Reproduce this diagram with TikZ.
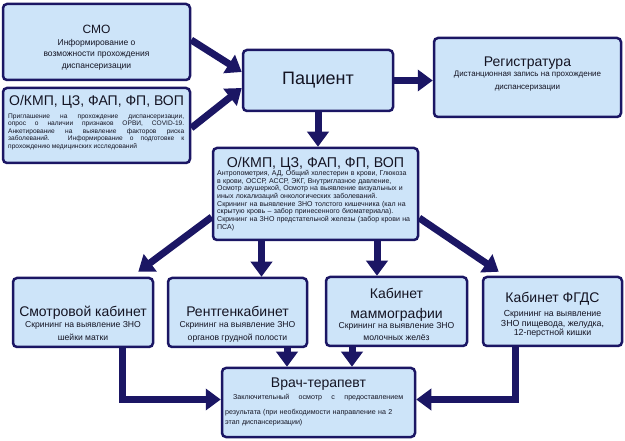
\documentclass[tikz,border=0pt]{standalone}
\usepackage{fontspec}
\setmainfont{Liberation Sans}
\usetikzlibrary{arrows.meta,calc}
\definecolor{navy}{RGB}{27,22,100}
\definecolor{boxfill}{RGB}{205,228,249}
\definecolor{txt}{RGB}{20,20,35}
\newcommand\fs[2]{\fontsize{#1}{#2}\selectfont}
\tikzset{
  box/.style={draw=navy, line width=2.5pt, fill=boxfill, rounded corners=4pt, inner sep=0pt},
  ttl/.style={inner sep=0pt, anchor=base, text=txt},
  sub/.style={inner sep=0pt, anchor=north, align=center, text=txt},
  par/.style={inner sep=0pt, anchor=north west, text=txt},
  conn/.style={draw=navy, line width=7pt, -{Triangle[width=21pt,length=15pt]}}
}
\begin{document}
\begin{tikzpicture}[x=1pt,y=-1pt]
\useasboundingbox (0,0) rectangle (625,441);
% boxes
\node[box, minimum width=187pt, minimum height=76pt] (smo) at (96.5,42) {};
\node[box, minimum width=187pt, minimum height=75pt] (okmp1) at (96.5,125.5) {};
\node[box, minimum width=150pt, minimum height=61pt] (pat) at (318,80.5) {};
\node[box, minimum width=187pt, minimum height=79pt] (reg) at (527.5,77.5) {};
\node[box, minimum width=205pt, minimum height=92pt] (mid) at (315.5,194) {};
\node[box, minimum width=140pt, minimum height=69pt] (smotr) at (83,312.5) {};
\node[box, minimum width=139pt, minimum height=69pt] (rent) at (237.5,312.5) {};
\node[box, minimum width=141pt, minimum height=69pt] (mammo) at (396.5,311.5) {};
\node[box, minimum width=139pt, minimum height=69pt] (fgds) at (552.5,311.5) {};
\node[box, minimum width=193pt, minimum height=69pt] (vrach) at (318.5,402.5) {};
% texts
\node[ttl, font=\fs{12}{14}] (smoT) at (96.5,33.5) {СМО};
\node[sub, font=\fs{8.5}{11.5}] (smoS) at (96.5,39) {Информирование о\\возможности прохождения\\диспансеризации};
\node[ttl, font=\fs{14}{16}] (okmp1T) at (96.5,106) {О/КМП, ЦЗ, ФАП, ФП, ВОП};
\node[par, text width=176pt, align=justify, font=\fs{6.6}{7.5}] (okmp1S) at (8,113.3) {Приглашение на прохождение диспансеризации,\linebreak опрос о наличии признаков ОРВИ, COVID-19.\linebreak Анкетирование на выявление факторов риска\linebreak заболеваний. Информирование о подготовке к\linebreak прохождению медицинских исследований};
\node[ttl, font=\fs{18}{20}] (patT) at (318,84.5) {Пациент};
\node[ttl, font=\fs{14}{16}] (regT) at (527.5,67) {Регистратура};
\node[sub, font=\fs{8}{12.7}] (regS) at (527.5,71.2) {Дистанционная запись на прохождение\\диспансеризации};
\node[ttl, font=\fs{14.2}{16}] (midT) at (315.5,167.5) {О/КМП, ЦЗ, ФАП, ФП, ВОП};
\node[par, text width=200pt, align=left, font=\fs{7}{7.7}] (midS) at (217,170) {Антропометрия, АД, Общий холестерин в крови, Глюкоза\\в крови, ОССР, АССР, ЭКГ, Внутриглазное давление,\\Осмотр акушеркой, Осмотр на выявление визуальных и\\иных локализаций онкологических заболеваний.\\Скрининг на выявление ЗНО толстого кишечника (кал на\\скрытую кровь – забор принесенного биоматериала).\\Скрининг на ЗНО предстательной железы (забор крови на\\ПСА)};
\node[ttl, font=\fs{14}{16}] (smotrT) at (83,317) {Смотровой кабинет};
\node[sub, font=\fs{8.6}{13}] (smotrS) at (83,320.8) {Скрининг на выявление ЗНО\\шейки матки};
\node[ttl, font=\fs{14}{16}] (rentT) at (237.5,317) {Рентгенкабинет};
\node[sub, font=\fs{8.6}{13}] (rentS) at (237.5,320.8) {Скрининг на выявление ЗНО\\органов грудной полости};
\node[ttl, font=\fs{14}{20}, align=center, anchor=north] (mammoT) at (396.5,288) {Кабинет\\маммографии};
\node[sub, font=\fs{8.6}{12}] (mammoS) at (396.5,321.8) {Скрининг на выявление ЗНО\\молочных желёз};
\node[ttl, font=\fs{14}{16}] (fgdsT) at (552.5,303) {Кабинет ФГДС};
\node[sub, font=\fs{8.8}{9.7}] (fgdsS) at (552.5,310) {Скрининг на выявление\\ЗНО пищевода, желудка,\\12-перстной кишки};
\node[ttl, font=\fs{14}{16}] (vrachT) at (318.5,388) {Врач-терапевт};
\node[par, text width=178pt, align=left, font=\fs{7.1}{10}] (vrachS) at (225,394) {\hbox to \linewidth{\hspace{8pt}Заключительный\hfill осмотр\hfill с\hfill предоставлением}\par\vspace{5pt}результата (при необходимости направление на 2\\этап диспансеризации)};
% connectors
\draw[conn] ([yshift=2pt]smo.east) -- ([yshift=8.5pt]pat.west);
\draw[conn] ([yshift=-2.5pt]okmp1.east) -- ([yshift=-7.5pt]pat.west);
\draw[conn] (pat.east) -- (pat.east -| reg.west);
\draw[conn] (pat.south) -- (pat.south |- mid.north);
\draw[conn] ([yshift=-23pt]mid.west) -- ([xshift=-16pt,yshift=5pt]smotr.north east);
\draw[conn] ([yshift=-24pt]mid.east) -- ([xshift=17pt,yshift=4pt]fgds.north west);
\draw[conn] ([xshift=24pt]rent.north |- mid.south) -- ([xshift=24pt]rent.north);
\draw[conn] ([xshift=-19.5pt]mammo.north |- mid.south) -- ([xshift=-19.5pt]mammo.north);
\draw[conn] ([xshift=49.5pt]rent.south) -- ([xshift=49.5pt]rent.south |- vrach.north);
\draw[conn] ([xshift=-44.5pt]mammo.south) -- ([xshift=-44.5pt]mammo.south |- vrach.north);
\draw[conn] ([xshift=39pt]smotr.south) |- ([yshift=3pt]vrach.west);
\draw[conn] ([xshift=-37.5pt]fgds.south) |- ([yshift=3pt]vrach.east);
\end{tikzpicture}
\end{document}
